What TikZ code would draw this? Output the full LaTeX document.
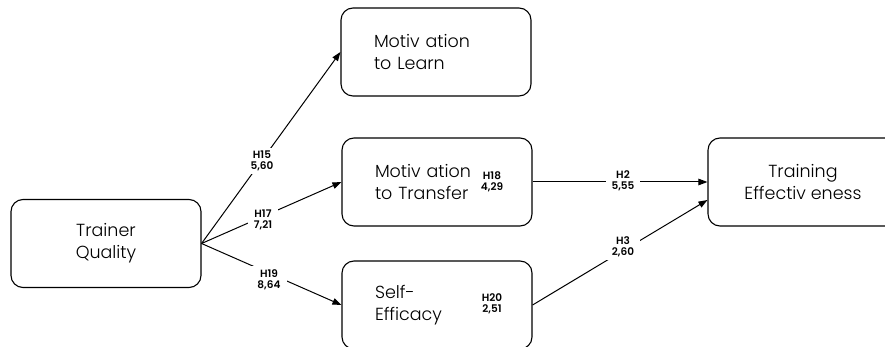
\documentclass[tikz,border=0pt]{standalone}
\usepackage{fontspec}
\setmainfont{Poppins}[UprightFont=* Light, BoldFont=* SemiBold]
\usetikzlibrary{arrows.meta}
\begin{document}
\begin{tikzpicture}[x=1pt,y=-1pt,
  box/.style={draw, rounded corners=12pt, line width=1.1pt, minimum width=190pt, minimum height=88pt, font=\fontsize{17.5}{22}\selectfont},
  leftbox/.style={box, text width=124pt, align=left},
  midbox/.style={box, align=center},
  conn/.style={line width=1pt, -{Triangle[length=9pt,width=6.5pt]}},
  hyp/.style={fill=white, font=\bfseries\fontsize{10.5}{11}\selectfont, align=center, inner xsep=6pt, inner ysep=3pt}]
\useasboundingbox (0,0) rectangle (885,347);
\node[midbox] (tq) at (106,243.5) {Trainer\\Quality};
\node[leftbox] (mtl) at (436,52) {Motiv ation\\to Learn};
\node[leftbox] (mtt) at (437,182) {Motiv ation\\to Transfer};
\node[leftbox] (se) at (437,305) {Self-\\Efficacy};
\node[midbox] (te) at (803,182) {Training\\Effectiv eness};
\draw[conn] (tq.east) -- (mtl.west);
\draw[conn] (tq.east) -- (mtt.west);
\draw[conn] (tq.east) -- (se.west);
\draw[conn] (mtt.east) -- (te.west);
\draw[conn] (se.east) -- ([yshift=-18pt]te.west);
\node[hyp] (h15) at (262,161) {H15\\5,60};
\node[hyp] (h17) at (263,219.5) {H17\\7,21};
\node[hyp] (h19) at (269,279.5) {H19\\8,64};
\node[hyp] (h2) at (623,181) {H2\\5,55};
\node[hyp] (h3) at (623,247) {H3\\2,60};
\node[hyp, fill=none] (h18) at (492,182) {H18\\4,29};
\node[hyp, fill=none] (h20) at (492,303.5) {H20\\2,51};
\end{tikzpicture}
\end{document}
